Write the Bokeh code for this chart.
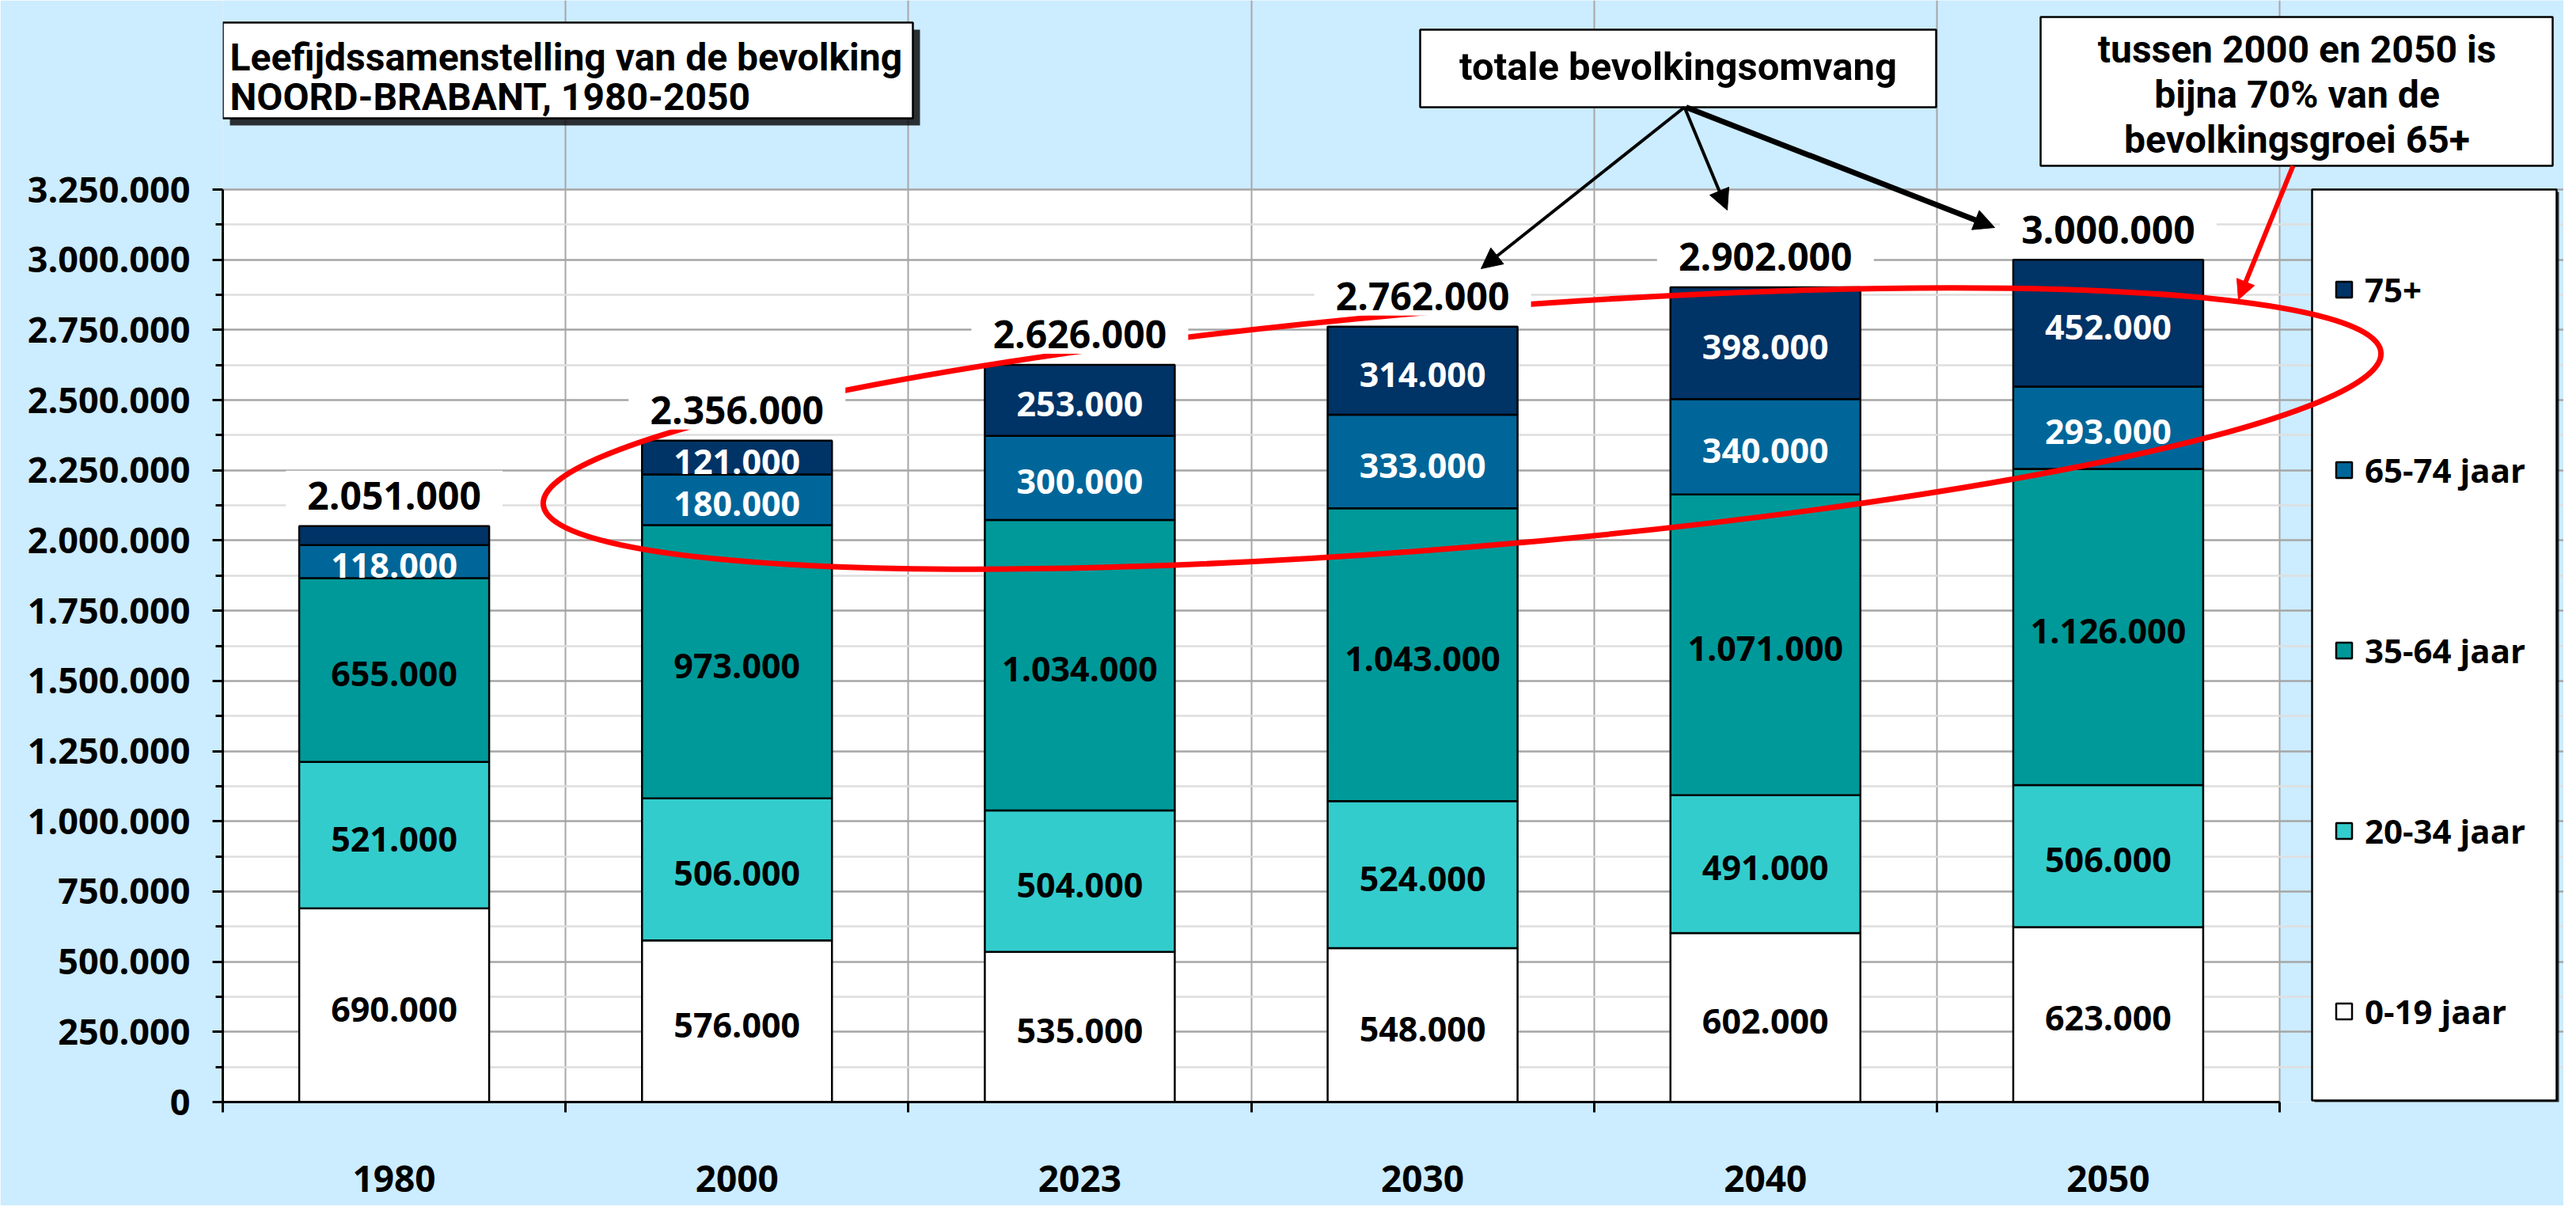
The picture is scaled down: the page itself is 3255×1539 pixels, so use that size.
import math
from bokeh.plotting import figure
from bokeh.models import (ColumnDataSource, Range1d, FixedTicker, Legend, LegendItem,
                          Arrow, NormalHead)
from bokeh.core.properties import value
from bokeh.embed import file_html
from bokeh.resources import INLINE

# ---------------- data ----------------
years = ["1980", "2000", "2023", "2030", "2040", "2050"]
age_0_19 = [690000, 576000, 535000, 548000, 602000, 623000]
age_20_34 = [521000, 506000, 504000, 524000, 491000, 506000]
age_35_64 = [655000, 973000, 1034000, 1043000, 1071000, 1126000]
age_65_74 = [118000, 180000, 300000, 333000, 340000, 293000]
age_75_plus = [67000, 121000, 253000, 314000, 398000, 452000]
totals = [2051000, 2356000, 2626000, 2762000, 2902000, 3000000]
series_names = ["0-19 jaar", "20-34 jaar", "35-64 jaar", "65-74 jaar", "75+"]
y_ticks = [0, 250000, 500000, 750000, 1000000, 1250000, 1500000, 1750000,
           2000000, 2250000, 2500000, 2750000, 3000000, 3250000]
y_tick_labels = ["0", "250.000", "500.000", "750.000", "1.000.000", "1.250.000",
                 "1.500.000", "1.750.000", "2.000.000", "2.250.000", "2.500.000",
                 "2.750.000", "3.000.000", "3.250.000"]
title_lines = ["Leefijdssamenstelling van de bevolking", "NOORD-BRABANT, 1980-2050"]
note_total = "totale bevolkingsomvang"
note_growth = ["tussen 2000 en 2050 is", "bijna 70% van de", "bevolkingsgroei 65+"]

# ---------------- styles / layout ----------------
BG = "#CCECFF"
COLORS = ["#FFFFFF", "#33CCCC", "#009999", "#006699", "#003366"]
LABEL_COLORS = ["black", "black", "black", "white", "white"]
NUM_FONT_NAME = "Open Sans"
NUM_FONT = value(NUM_FONT_NAME)
NOTE_FONT = value("Roboto")

W, H = 3239, 1523
OX, OY = 8, 8                              # page offset of the canvas
PL, PR, PT, PB = 289, 2888, 247, 1400      # plot area (page px)
YMAX = 3250000
NCAT = len(years)
BAR_W = 240 / ((PR - PL) / NCAT)


def dx(px):
    return (px - PL) / (PR - PL) * NCAT


def dy(py):
    return (PB - py) / (PB - PT) * YMAX


def fmt(v):
    return f"{v:,}".replace(",", ".")


p = figure(width=W, height=H, title=None,
           x_range=Range1d(0, dx(OX + W)), y_range=Range1d(0, dy(OY)),
           output_backend="svg", toolbar_location=None,
           min_border_left=PL - OX, min_border_right=0, min_border_top=0,
           min_border_bottom=OY + H - PB)
p.background_fill_color = BG
p.border_fill_color = BG
p.outline_line_color = None
p.styles = {"box-shadow": "-3px -3px 0px 0px black"}

# white plot area under the grid
p.quad(left=[0], right=[NCAT], bottom=[0], top=[YMAX], fill_color="white",
       line_color=None, level="image")

# ---------------- axes & grids ----------------
yax = p.yaxis[0]
yax.ticker = FixedTicker(ticks=y_ticks, minor_ticks=[t + 125000 for t in y_ticks[:-1]])
yax.major_label_overrides = {t: lab for t, lab in zip(y_ticks, y_tick_labels)}
yax.bounds = (0, YMAX)
yax.axis_line_color = "black"
yax.axis_line_width = 3
yax.major_tick_out = 13
yax.major_tick_in = 0
yax.major_tick_line_width = 3
yax.minor_tick_out = 9
yax.minor_tick_in = 0
yax.minor_tick_line_width = 3
yax.major_label_standoff = 28
yax.major_label_text_font = NUM_FONT_NAME
yax.major_label_text_font_style = "bold"
yax.major_label_text_font_size = "45px"
yax.major_label_text_color = "black"

x_centers = [i + 0.5 for i in range(NCAT)]
x_bounds = list(range(NCAT + 1))
xax = p.xaxis[0]
xax.ticker = FixedTicker(ticks=x_centers, minor_ticks=x_bounds)
xax.major_label_overrides = {c: y for c, y in zip(x_centers, years)}
xax.bounds = (0, NCAT)
xax.axis_line_color = "black"
xax.axis_line_width = 3
xax.major_tick_line_color = None
xax.major_tick_out = 0
xax.major_tick_in = 0
xax.minor_tick_out = 13
xax.minor_tick_in = 0
xax.minor_tick_line_width = 3
xax.major_label_standoff = 67
xax.major_label_text_font = NUM_FONT_NAME
xax.major_label_text_font_style = "bold"
xax.major_label_text_font_size = "46px"
xax.major_label_text_color = "black"

p.xgrid.ticker = FixedTicker(ticks=x_bounds)
p.xgrid.bounds = (0, YMAX)
p.xgrid.grid_line_color = "#A6A6A6"
p.xgrid.grid_line_width = 2
p.ygrid.bounds = (0, NCAT)
p.ygrid.grid_line_color = "#A6A6A6"
p.ygrid.grid_line_width = 2.5
p.ygrid.minor_grid_line_color = "#DEDEDE"
p.ygrid.minor_grid_line_width = 2.5

# ---------------- boxes (notes, title, legend frame) ----------------
def box(l, t, r, b, shadow=0, lw=2.5):
    if shadow:
        p.quad(left=[dx(l + shadow)], right=[dx(r + shadow)], top=[dy(t + shadow)],
               bottom=[dy(b + shadow)], fill_color="black", fill_alpha=0.8, line_color=None)
    p.quad(left=[dx(l)], right=[dx(r)], top=[dy(t)], bottom=[dy(b)],
           fill_color="white", line_color="black", line_width=lw)


box(289, 36, 1161, 157, shadow=9)
box(1802, 45, 2454, 143)
box(2586, 29, 3233, 217)
box(2929, 247, 3238, 1398, shadow=3)

p.text(x=[dx(298), dx(298)], y=[dy(80), dy(130)], text=title_lines,
       text_font=NOTE_FONT, text_font_style="bold", text_font_size="48px",
       text_align="left", text_baseline="middle", text_color="black")
p.text(x=[dx(2128)], y=[dy(92)], text=[note_total],
       text_font=NOTE_FONT, text_font_style="bold", text_font_size="49px",
       text_align="center", text_baseline="middle", text_color="black")
p.text(x=[dx(2910)] * 3, y=[dy(70), dy(127), dy(184)], text=note_growth,
       text_font=NOTE_FONT, text_font_style="bold", text_font_size="48px",
       text_align="center", text_baseline="middle", text_color="black")

# ---------------- stacked bars ----------------
series = [age_0_19, age_20_34, age_35_64, age_65_74, age_75_plus]
keys = ["s0", "s1", "s2", "s3", "s4"]
src = ColumnDataSource(dict(x=x_centers, **{k: v for k, v in zip(keys, series)}))
bars = p.vbar_stack(keys, x="x", width=BAR_W, source=src, fill_color=COLORS,
                    line_color="black", line_width=2.5)

lab_x, lab_y, lab_t, lab_c = [], [], [], []
for i in range(NCAT):
    base = 0
    for s, vals in enumerate(series):
        v = vals[i]
        if v >= 100000:
            lab_x.append(x_centers[i])
            lab_y.append(base + v / 2)
            lab_t.append(fmt(v))
            lab_c.append(LABEL_COLORS[s])
        base += v
p.text(x=lab_x, y=lab_y, text=lab_t, text_color=lab_c, text_align="center",
       text_baseline="middle", text_font=NUM_FONT, text_font_style="bold",
       text_font_size="43px", y_offset=5)

# ---------------- red ellipse ----------------
p.ellipse(x=[dx(1855)], y=[dy(549)], width=2330, height=300,
          width_units="screen", height_units="screen", angle=4.73, angle_units="deg",
          fill_color=None, line_color="#FF0000", line_width=7, level="overlay")

# ---------------- total labels ----------------
off = 42 * YMAX / (PB - PT)
p.rect(x=x_centers, y=[t + off for t in totals], width=274, height=56,
       width_units="screen", height_units="screen", fill_color="white",
       line_color=None, level="overlay")
p.text(x=x_centers, y=totals, text=[fmt(t) for t in totals], y_offset=-38,
       text_align="center", text_baseline="middle", text_font=NUM_FONT,
       text_font_style="bold", text_font_size="48px", text_color="black",
       level="overlay")

# ---------------- arrows ----------------
for (x0, y0, x1, y1, lw) in [(2136, 143, 1879, 347, 4), (2136, 143, 2190, 273, 4),
                             (2138, 143, 2528, 295, 7)]:
    p.add_layout(Arrow(end=NormalHead(size=26, fill_color="black", line_color="black"),
                       x_start=dx(x0), y_start=dy(y0), x_end=dx(x1), y_end=dy(y1),
                       line_width=lw, line_color="black"))
p.add_layout(Arrow(end=NormalHead(size=24, fill_color="#FF0000", line_color="#FF0000"),
                   x_start=dx(2905), y_start=dy(217), x_end=dx(2836), y_end=dy(386),
                   line_width=6, line_color="#FF0000"))

# ---------------- legend ----------------
legend = Legend(items=[LegendItem(label=series_names[s], renderers=[bars[s]])
                       for s in reversed(range(5))],
                location=(2957 - PL, 86), orientation="vertical",
                border_line_color=None, background_fill_alpha=0, padding=0, margin=0,
                glyph_width=25, glyph_height=25, label_standoff=14,
                label_text_font=NUM_FONT_NAME, label_text_font_style="bold",
                label_text_font_size="42px", label_text_color="black", spacing=171)
p.add_layout(legend)

open("out.html", "w").write(file_html(p, INLINE))
